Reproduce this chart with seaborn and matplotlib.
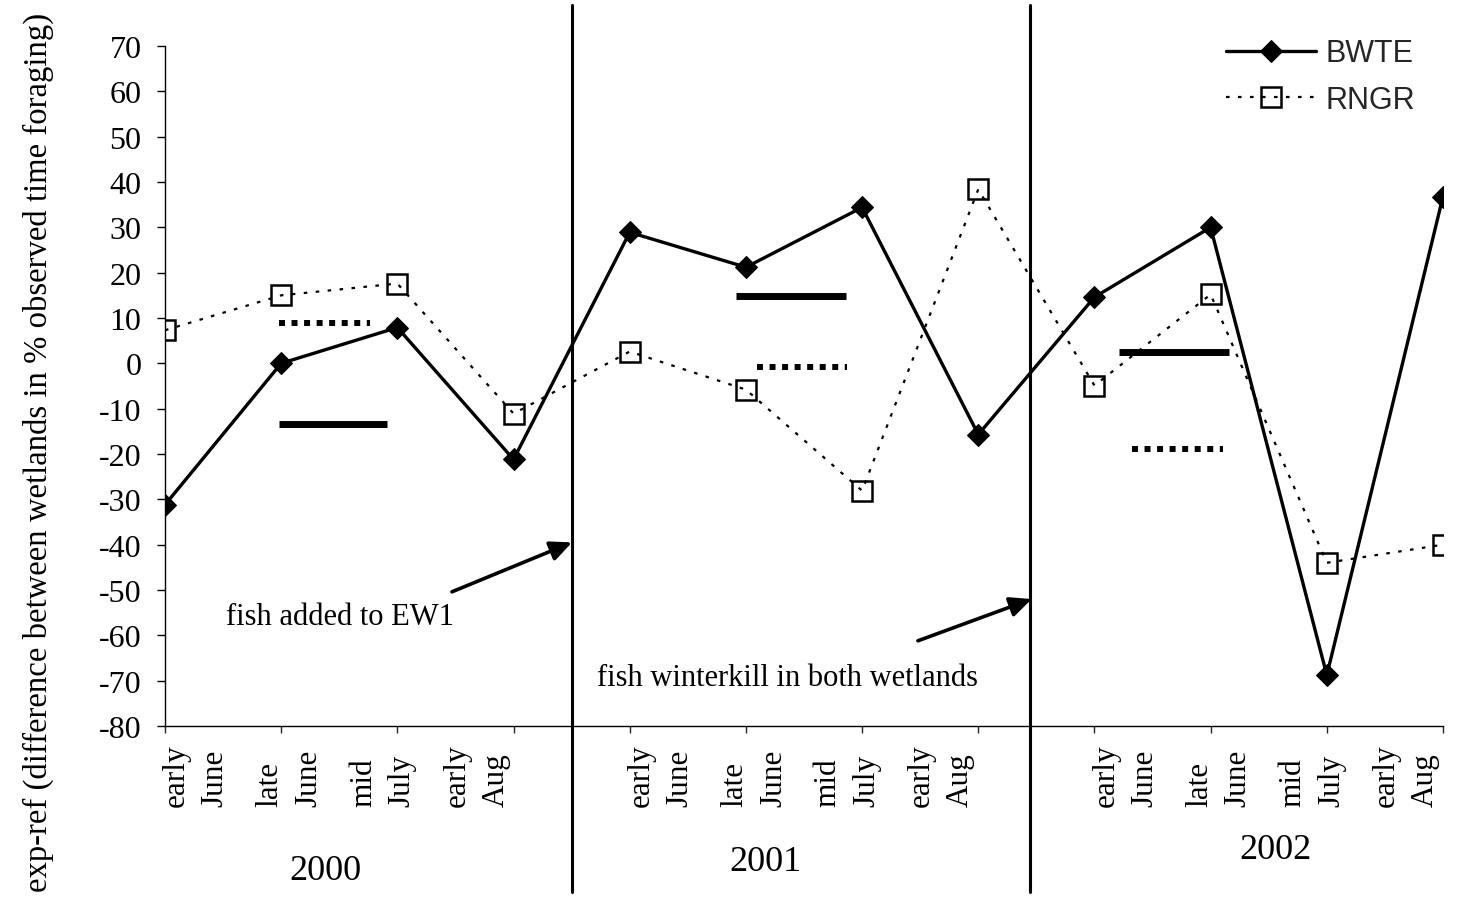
import numpy as np
import pandas as pd
import matplotlib
matplotlib.use("Agg")
import matplotlib.pyplot as plt
from matplotlib.font_manager import FontProperties
import seaborn as sns

# ---------------- data ----------------
periods = ["early\nJune", "late\nJune", "mid\nJuly", "early\nAug"]
years = ["2000", "2001", "2002"]
bwte = [-31.2, 0.0, 7.9, -21.2, 28.9, 21.2, 34.4, -15.7, 14.6, 30.0, -68.8, 36.8]
rngr = [7.3, 15.0, 17.6, -11.1, 2.6, -5.8, -28.1, 38.4, -4.9, 15.2, -44.0, -40.0]
bwte_mean = [-13.3, 14.8, 2.6]
rngr_mean = [9.0, -0.7, -18.8]
events = ["fish added to EW1", "fish winterkill in both wetlands"]

# ---------------- layout ----------------
bwte_mean_span = [(0.985, 1.911), (4.915, 5.862), (8.211, 9.158)]
rngr_mean_span = [(0.985, 1.765), (5.096, 5.870), (8.323, 9.106)]
event_x = [3.5, 7.445]

sns.set_theme(style="ticks")
plt.rcParams["font.family"] = ["Liberation Serif", "DejaVu Serif"]
plt.rcParams["axes.linewidth"] = 1.0
plt.rcParams["axes.unicode_minus"] = False

W, H = 1461, 904
fig = plt.figure(figsize=(W / 100, H / 100), dpi=100)
fig.patch.set_facecolor("white")
ax = fig.add_axes([165 / W, 1 - 727 / H, 1278 / W, 680 / H])
ax.set_facecolor("white")

n = len(bwte)
pos = np.arange(n)

sns.lineplot(x=pos, y=rngr, ax=ax, color="black", lw=1.6,
             linestyle=(0, (1.6, 3.8)), marker="s", markersize=15,
             markerfacecolor="none", markeredgecolor="black",
             markeredgewidth=1.8, errorbar=None, zorder=3)
sns.lineplot(x=pos, y=bwte, ax=ax, color="black", lw=2.4,
             marker="D", markersize=11.5, markerfacecolor="black",
             markeredgecolor="black", errorbar=None, zorder=4)

# mean bars
for (x0, x1), v in zip(bwte_mean_span, bwte_mean):
    ax.hlines(v, x0, x1, color="black", lw=5, zorder=2)
for (x0, x1), v in zip(rngr_mean_span, rngr_mean):
    ax.hlines(v, x0, x1, color="black", lw=4.3,
              linestyles=[(0, (1, 1.1))], zorder=2)

# event lines
for xv in event_x:
    ax.axvline(xv, ymin=-0.244, ymax=1.061, clip_on=False,
               color="black", lw=2.2, zorder=5)

ax.set_xlim(0, n - 1)
ax.set_ylim(-80, 70)
ax.set_yticks(np.arange(-80, 71, 10))
ax.set_xticks(pos)
ax.set_xticklabels([""] * n)
ax.tick_params(axis="y", direction="out", length=6, width=1, pad=11,
               labelsize=23, colors="black")
ax.tick_params(axis="x", direction="out", length=5, width=1)
for lab in ax.get_yticklabels():
    lab.set_fontfamily("Liberation Serif")
for s in ["top", "right"]:
    ax.spines[s].set_visible(False)
for s in ["left", "bottom"]:
    ax.spines[s].set_color("black")

ax.set_ylabel("exp-ref (difference between wetlands in % observed time foraging)",
              fontsize=23.6, color="black")
ax.yaxis.set_label_coords(-0.087, 0.404)

# category labels (two-line, rotated)
trans = ax.get_xaxis_transform()
for g in range(len(years)):
    for k, lab in enumerate(periods):
        xc = 4 * g + 0.265 + k * 0.805
        ax.text(xc, -0.1175, lab, rotation=90, ha="center", va="bottom",
                multialignment="left", linespacing=1.45, fontsize=22.5,
                transform=trans, color="black")

year_x = [1.377, 5.164, 9.554]
year_y = [-0.212, -0.199, -0.182]
for yr, xx, yy in zip(years, year_x, year_y):
    ax.text(xx, yy, yr, ha="center", va="center", fontsize=26,
            transform=trans, color="black")

# annotations
ax.annotate("", xy=(3.503, -39.5), xytext=(2.47, -50.4),
            arrowprops=dict(arrowstyle="-|>,head_length=0.65,head_width=0.3",
                            lw=2.6, color="black", shrinkA=0, shrinkB=0,
                            mutation_scale=20), annotation_clip=False, zorder=6)
ax.annotate("", xy=(7.46, -52.0), xytext=(6.481, -61.2),
            arrowprops=dict(arrowstyle="-|>,head_length=0.65,head_width=0.3",
                            lw=2.6, color="black", shrinkA=0, shrinkB=0,
                            mutation_scale=20), annotation_clip=False, zorder=6)
ax.text(1.506, -55.9, events[0], ha="center", va="center", fontsize=22, color="black")
ax.text(5.354, -69.2, events[1], ha="center", va="center", fontsize=22, color="black")

# legend
handles = ax.get_lines()[:2][::-1]
leg = ax.legend(handles, ["BWTE", "RNGR"],
                prop=FontProperties(family="Liberation Sans", size=22),
                frameon=False, loc="center", bbox_to_anchor=(0.904, 0.955),
                handlelength=2.95, handletextpad=0.3, labelspacing=0.55,
                borderpad=0)

fig.savefig("out.png", dpi=100, facecolor="white")
